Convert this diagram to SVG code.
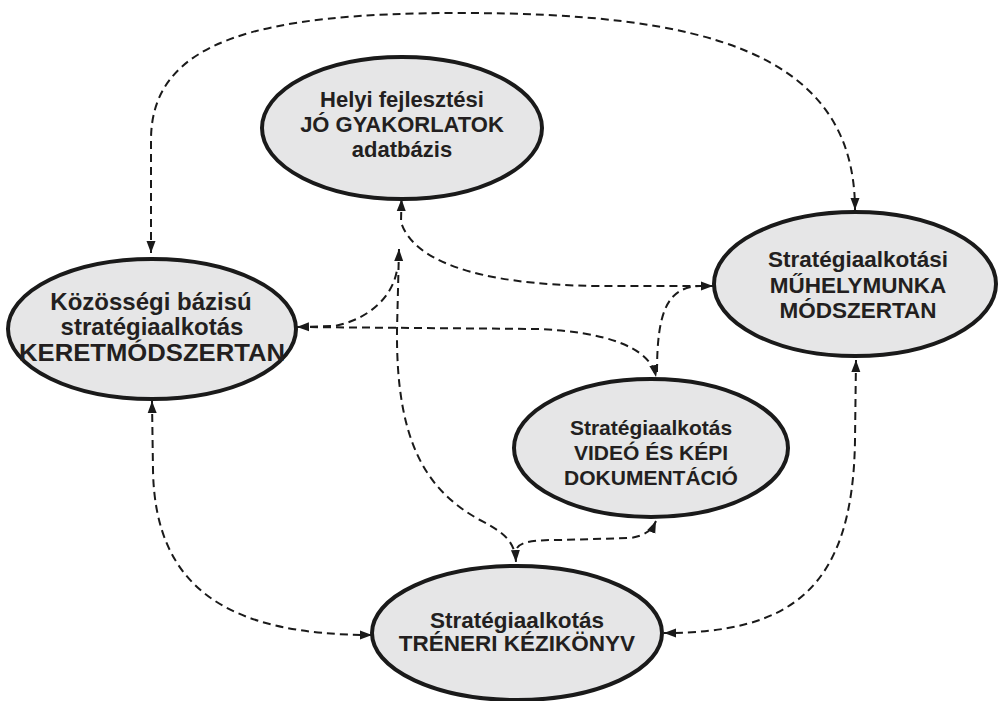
<svg xmlns="http://www.w3.org/2000/svg" width="998" height="701" viewBox="0 0 998 701">
<style>
.node ellipse{fill:#e6e6e7;stroke:#1a1a1a;stroke-width:4}
.node text{font-family:"Liberation Sans",Arial,sans-serif;font-weight:bold;fill:#231f20;text-anchor:middle}
.conn path{fill:none;stroke:#1a1a1a;stroke-width:2;stroke-dasharray:8 5}
</style>
<defs>
<marker id="ah" markerUnits="userSpaceOnUse" markerWidth="12" markerHeight="10" refX="12" refY="4.5" orient="auto-start-reverse" viewBox="0 0 12 9">
<path d="M0,0 L12,4.5 L0,9 z" fill="#1a1a1a"/>
</marker>
</defs>
<rect width="998" height="701" fill="#ffffff"/>
<g id="connectors" class="conn">
<path d="M151,253 L151,140 C151,40 260,13 460,13 C700,13 855,50 855,210" marker-start="url(#ah)" marker-end="url(#ah)"/>
<path d="M401.5,199 L401,222 C412,258 470,285 600,286 L713,286" marker-start="url(#ah)" marker-end="url(#ah)"/>
<path d="M399,249 L397,330 C396,440 425,490 480,520 C505,533 515,542 516,562" marker-start="url(#ah)" marker-end="url(#ah)"/>
<path d="M297,327 L335,326 C365,320 392,300 397,270" marker-start="url(#ah)"/>
<path d="M297,327 L540,329 C600,332 650,345 656,377" marker-end="url(#ah)"/>
<path d="M657,372 C657,310 668,287 700,286"/>
<path d="M517,548 C522,541 535,540 560,540 L630,538 C645,536 652,530 656,521" marker-end="url(#ah)"/>
<path d="M152,401 L153,470 C155,590 230,635 372,635" marker-start="url(#ah)" marker-end="url(#ah)"/>
<path d="M856,360 L855,440 C853,590 790,633 664,633" marker-start="url(#ah)" marker-end="url(#ah)"/>
</g>
<g id="node-top" class="node">
<ellipse cx="402" cy="128" rx="140" ry="71"/>
<text x="402" y="107" font-size="22">Helyi fejlesztési</text>
<text x="402" y="132" font-size="22">JÓ GYAKORLATOK</text>
<text x="402" y="157" font-size="22">adatbázis</text>
</g>
<g id="node-left" class="node">
<ellipse cx="152" cy="329" rx="144" ry="70"/>
<text x="151" y="310" font-size="24">Közösségi bázisú</text>
<text x="152" y="335" font-size="24">stratégiaalkotás</text>
<text x="152" y="361" font-size="24" textLength="266" lengthAdjust="spacingAndGlyphs">KERETMÓDSZERTAN</text>
</g>
<g id="node-right" class="node">
<ellipse cx="855" cy="284" rx="141" ry="72"/>
<text x="858" y="267" font-size="22.5">Stratégiaalkotási</text>
<text x="858" y="293" font-size="22.5">MŰHELYMUNKA</text>
<text x="858" y="318" font-size="22.5">MÓDSZERTAN</text>
</g>
<g id="node-video" class="node">
<ellipse cx="651" cy="448" rx="137" ry="69"/>
<text x="651" y="435" font-size="21">Stratégiaalkotás</text>
<text x="651" y="460" font-size="21">VIDEÓ ÉS KÉPI</text>
<text x="651" y="485" font-size="21">DOKUMENTÁCIÓ</text>
</g>
<g id="node-bottom" class="node">
<ellipse cx="517" cy="633" rx="145" ry="67"/>
<text x="517" y="628" font-size="22.5">Stratégiaalkotás</text>
<text x="517" y="651" font-size="22.5">TRÉNERI KÉZIKÖNYV</text>
</g>
</svg>
